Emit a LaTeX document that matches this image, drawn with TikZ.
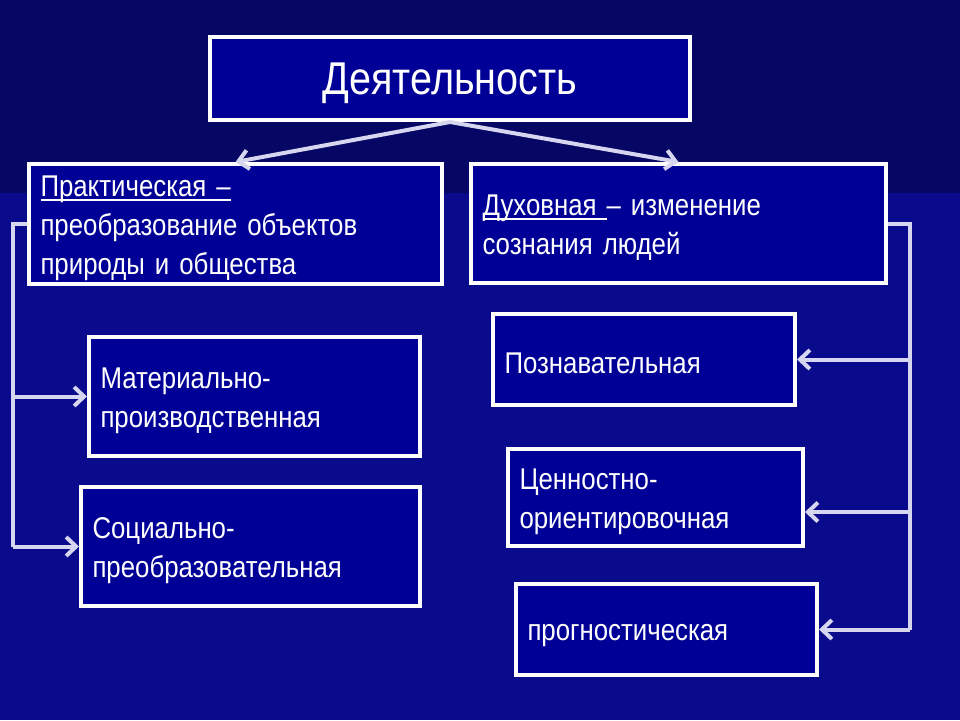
\documentclass[tikz,border=0pt]{standalone}
\usepackage{fontspec}
\setmainfont{Liberation Sans}[FakeStretch=0.86]
\usetikzlibrary{arrows.meta}
\definecolor{sfondoalto}{RGB}{6,6,100}
\definecolor{sfondo}{RGB}{10,10,140}
\definecolor{riempi}{RGB}{0,0,150}
\definecolor{freccia}{RGB}{214,214,240}
\newcommand{\sottolinea}[1]{\setbox0\hbox{#1}\rlap{\rule[-4.5pt]{\wd0}{1.6pt}}\box0}
\newcommand{\su}{\rule{0pt}{29pt}}

\begin{document}
\begin{tikzpicture}[x=1pt, y=-1pt, ->, >={Straight Barb[length=10pt,width=19pt]},
			box/.style={draw=white, line width=4pt, fill=riempi, text=white,
				align=left, inner xsep=11.5pt, inner ysep=0pt,
				font=\fontsize{30}{39}\selectfont},
			link/.style={draw=freccia, line width=4pt}]
			
			% Sfondo
			\useasboundingbox (0,0) rectangle (960,720);
			\fill[sfondo] (0,0) rectangle (960,720);
			\fill[sfondoalto] (0,0) rectangle (960,193);
			
			% Nodi
			\node[box, minimum width=480, minimum height=83, align=center, text depth=0pt,
				font=\fontsize{46}{50}\selectfont] (att) at (450,78.5) {Деятельность};
			\node[box, minimum width=413, minimum height=120, text width=390] (prat) at (235.5,224)
				{\su\sottolinea{Практическая –}\\преобразование объектов\\природы и общества};
			\node[box, minimum width=415, minimum height=119, text width=392] (spir) at (678.5,223.5)
				{\su\sottolinea{Духовная }– изменение\\сознания людей};
			\node[box, minimum width=331, minimum height=119, text width=308] (mat) at (254.5,396.5)
				{\su Материально-\\производственная};
			\node[box, minimum width=339, minimum height=119, text width=316] (soc) at (250.5,546.5)
				{\su Социально-\\преобразовательная};
			\node[box, minimum width=302, minimum height=91, text width=279] (con) at (644,359.5)
				{\su Познавательная};
			\node[box, minimum width=295, minimum height=97, text width=272] (val) at (655.5,497.5)
				{\su Ценностно-\\ориентировочная};
			\node[box, minimum width=301, minimum height=91, text width=278] (prog) at (666.5,629.5)
				{\su прогностическая};
			
			% --- Frecce dal nodo principale ---
			\draw[link] (att.south) -- (prat.north);
			\draw[link] (att.south) -- (spir.north);
			
			% Ramo sinistro
			\draw[link, -] (prat.west) -- ++(-14,0) coordinate (sx) -- (sx |- soc.west);
			\draw[link] (sx |- mat.west) -- (mat.west);
			\draw[link] (sx |- soc.west) -- (soc.west);
			
			% Ramo destro
			\draw[link, -] (spir.east) -- ++(22,0) coordinate (dx) -- (dx |- prog.east);
			\draw[link] (dx |- con.east) -- (con.east);
			\draw[link] ([yshift=-14.5pt]val.east -| dx) -- ([yshift=-14.5pt]val.east);
			\draw[link] (dx |- prog.east) -- (prog.east);
		\end{tikzpicture}
\end{document}
